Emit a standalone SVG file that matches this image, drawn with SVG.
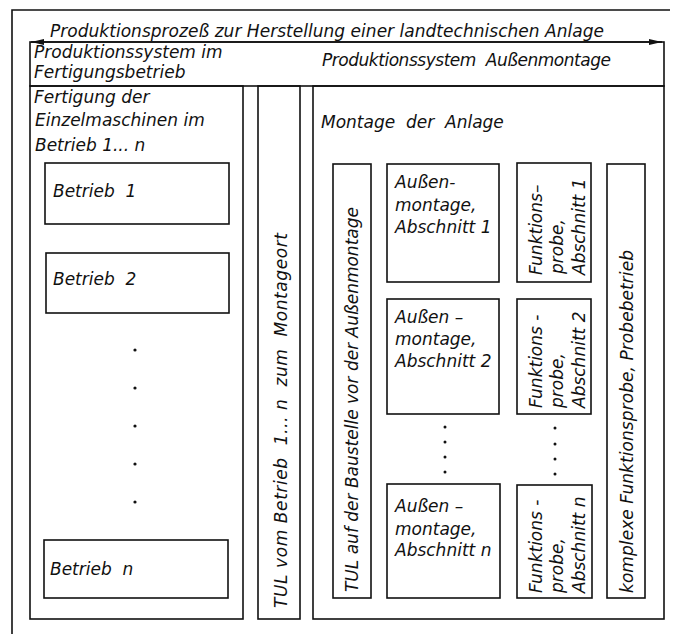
<svg xmlns="http://www.w3.org/2000/svg" width="679" height="634" viewBox="0 0 679 634">
<style>
.ln{fill:none;stroke:#111;stroke-width:1.6}
.bx{fill:#fff;stroke:#111;stroke-width:1.6}
.t{font-family:"DejaVu Sans","Liberation Sans",sans-serif;font-style:italic;font-size:17px;fill:#111;white-space:pre}
.dot{fill:#111}
</style>
<defs>
<marker id="ah" markerUnits="userSpaceOnUse" markerWidth="14" markerHeight="8" refX="13" refY="3.5" orient="auto-start-reverse"><path d="M0,0.5 L13,3.5 L0,6.5 z" fill="#111"/></marker>
</defs>
<rect width="679" height="634" fill="#fff"/>
<g id="frame">
<path class="ln" d="M12,634 V10 H670"/>
<rect class="ln" x="30" y="42" width="634" height="44"/>
</g>
<g id="connectors">
<line class="ln" x1="31" y1="42" x2="662" y2="42" marker-start="url(#ah)" marker-end="url(#ah)"/>
</g>
<g id="title"><text class="t" x="50" y="37" textLength="554">Produktionsprozeß zur Herstellung einer landtechnischen Anlage</text></g>
<g id="header-fertigung">
<text class="t" x="34" y="58">Produktionssystem im</text>
<text class="t" x="34" y="78">Fertigungsbetrieb</text>
</g>
<g id="header-aussenmontage"><text class="t" x="322" y="66" textLength="289">Produktionssystem  Außenmontage</text></g>
<g id="fertigung">
<rect class="ln" x="30" y="86" width="213" height="533"/>
<text class="t" x="34" y="103">Fertigung der</text>
<text class="t" x="35" y="126">Einzelmaschinen im</text>
<text class="t" x="35" y="151">Betrieb 1... n</text>
</g>
<g id="betrieb1"><rect class="bx" x="45" y="163" width="184" height="61"/><text class="t" x="53" y="197">Betrieb  1</text></g>
<g id="betrieb2"><rect class="bx" x="46" y="253" width="183" height="60"/><text class="t" x="53" y="285">Betrieb  2</text></g>
<g id="betrieb-dots"><circle class="dot" cx="135" cy="350" r="1.6"/><circle class="dot" cx="135" cy="388" r="1.6"/><circle class="dot" cx="135" cy="426" r="1.6"/><circle class="dot" cx="135" cy="464" r="1.6"/><circle class="dot" cx="135" cy="502" r="1.6"/></g>
<g id="betriebn"><rect class="bx" x="44" y="540" width="184" height="58"/><text class="t" x="50" y="575">Betrieb  n</text></g>
<g id="tul-montageort">
<rect class="ln" x="258" y="86" width="42" height="533"/>
<text class="t" transform="translate(287,608) rotate(-90)" x="0" y="0" textLength="375">TUL vom Betrieb  1... n  zum  Montageort</text>
</g>
<g id="montage">
<rect class="ln" x="313" y="86" width="351" height="533"/>
<text class="t" x="321" y="128">Montage  der  Anlage</text>
</g>
<g id="tul-baustelle">
<rect class="bx" x="333" y="164" width="38" height="434"/>
<text class="t" transform="translate(358,592) rotate(-90)" x="0" y="0" textLength="385">TUL auf der Baustelle vor der Außenmontage</text>
</g>
<g id="aussen1"><rect class="bx" x="387" y="164" width="112" height="118"/>
<text class="t" x="395" y="188">Außen-</text><text class="t" x="395" y="211">montage,</text><text class="t" x="395" y="233">Abschnitt 1</text></g>
<g id="aussen2"><rect class="bx" x="387" y="299" width="112" height="115"/>
<text class="t" x="395" y="323">Außen –</text><text class="t" x="395" y="345">montage,</text><text class="t" x="395" y="367">Abschnitt 2</text></g>
<g id="aussen-dots"><circle class="dot" cx="445" cy="427" r="1.5"/><circle class="dot" cx="445" cy="442" r="1.5"/><circle class="dot" cx="445" cy="457" r="1.5"/><circle class="dot" cx="445" cy="472" r="1.5"/></g>
<g id="aussenn"><rect class="bx" x="387" y="484" width="113" height="114"/>
<text class="t" x="395" y="512">Außen –</text><text class="t" x="395" y="535">montage,</text><text class="t" x="395" y="556">Abschnitt n</text></g>
<g id="funktion1"><rect class="bx" x="517" y="163" width="74" height="119"/>
<text class="t" transform="translate(542,275) rotate(-90)">Funktions–</text>
<text class="t" transform="translate(563,274) rotate(-90)">probe,</text>
<text class="t" transform="translate(585,275) rotate(-90)">Abschnitt 1</text></g>
<g id="funktion2"><rect class="bx" x="517" y="299" width="74" height="115"/>
<text class="t" transform="translate(542,408) rotate(-90)">Funktions -</text>
<text class="t" transform="translate(563,408) rotate(-90)">probe,</text>
<text class="t" transform="translate(585,408) rotate(-90)">Abschnitt 2</text></g>
<g id="funktion-dots"><circle class="dot" cx="555" cy="428" r="1.5"/><circle class="dot" cx="555" cy="444" r="1.5"/><circle class="dot" cx="555" cy="459" r="1.5"/><circle class="dot" cx="555" cy="474" r="1.5"/></g>
<g id="funktionn"><rect class="bx" x="517" y="485" width="75" height="113"/>
<text class="t" transform="translate(542,593) rotate(-90)">Funktions -</text>
<text class="t" transform="translate(563,593) rotate(-90)">probe,</text>
<text class="t" transform="translate(585,593) rotate(-90)">Abschnitt n</text></g>
<g id="komplex"><rect class="bx" x="607" y="164" width="38" height="434"/>
<text class="t" transform="translate(633,593) rotate(-90)" textLength="343">komplexe Funktionsprobe, Probebetrieb</text></g>
</svg>
